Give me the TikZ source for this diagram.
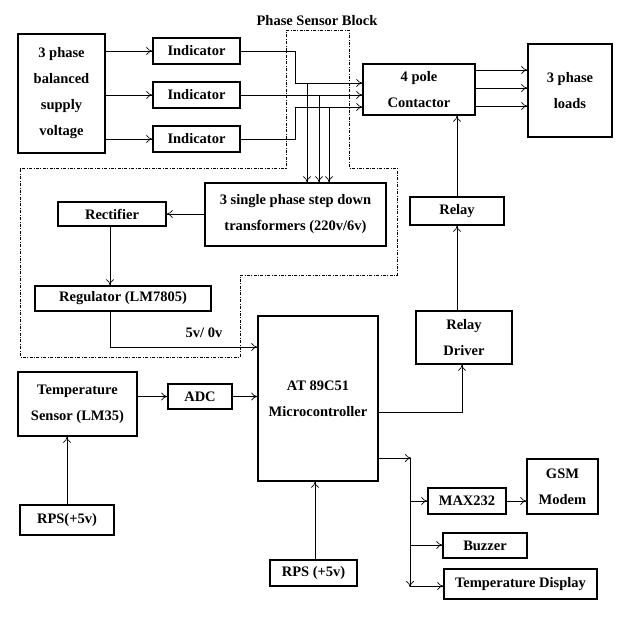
\documentclass[tikz,border=0pt]{standalone}
\usepackage{fontspec}
\setmainfont{Liberation Serif}
\usetikzlibrary{arrows.meta}
\begin{document}
\begin{tikzpicture}[x=1pt,y=-1pt,
  box/.style={draw,line width=1.5pt,align=center,font=\bfseries\fontsize{14.5}{26}\selectfont,inner sep=0pt},
  arr/.style={-{To[length=6pt,width=8pt]},line width=0.7pt},
  dd/.style={line width=0.6pt,dash pattern=on 3pt off 1.5pt on 0.8pt off 1.5pt}]
\useasboundingbox (0,0) rectangle (625,624);
\node[box,minimum width=87,minimum height=119] (sup) at (61.5,93.5) {3 phase\\balanced\\supply\\voltage};
\node[box,minimum width=87,minimum height=26] (i1) at (196.5,51) {Indicator};
\node[box,minimum width=87,minimum height=26] (i2) at (196.5,95) {Indicator};
\node[box,minimum width=87,minimum height=26] (i3) at (196.5,139) {Indicator};
\node[box,minimum width=112,minimum height=51] (cont) at (419,89.5) {4 pole\\Contactor};
\node[box,minimum width=84,minimum height=93] (load) at (570,90.5) {3 phase\\loads};
\node[box,minimum width=181,minimum height=63] (tr) at (295.5,214.5) {3 single phase step down\\transformers (220v/6v)};
\node[box,minimum width=108,minimum height=24] (rect) at (112,214) {Rectifier};
\node[box,minimum width=176,minimum height=25] (reg) at (123,298.5) {Regulator (LM7805)};
\node[box,minimum width=94,minimum height=28] (rel) at (457,211) {Relay};
\node[box,minimum width=96,minimum height=53] (drv) at (464,337.5) {Relay\\Driver};
\node[box,minimum width=120,minimum height=165] (mc) at (318,398.5) {AT 89C51\\Microcontroller};
\node[box,minimum width=119,minimum height=64] (ts) at (77.5,404) {Temperature\\Sensor (LM35)};
\node[box,minimum width=64,minimum height=25] (adc) at (200,396.5) {ADC};
\node[box,minimum width=94,minimum height=30] (rps1) at (67,520) {RPS(+5v)};
\node[box,minimum width=87,minimum height=26] (rps2) at (313.5,573) {RPS (+5v)};
\node[box,minimum width=78,minimum height=26] (max) at (467,501) {MAX232};
\node[box,minimum width=71,minimum height=55] (gsm) at (562.5,486.5) {GSM\\Modem};
\node[box,minimum width=84,minimum height=25] (buz) at (485,545.5) {Buzzer};
\node[box,minimum width=153,minimum height=30] (disp) at (520.5,584) {Temperature Display};
\node[font=\bfseries\fontsize{14.5}{16}\selectfont] (psb) at (317,21) {Phase Sensor Block};
\node[font=\bfseries\fontsize{14.5}{16}\selectfont] (v5) at (204,333) {5v/ 0v};
% phase sensor block outline
\draw[dd] (286,30) -- (349,30) -- (349,168) -- (397,168) -- (397,275) -- (240,275) -- (240,357) -- (20,357) -- (20,168) -- (286,168) -- cycle;
% supply to indicators
\draw[arr] (sup.east|-i1) -- (i1.west);
\draw[arr] (sup.east|-i2) -- (i2.west);
\draw[arr] (sup.east|-i3) -- (i3.west);
% indicators to contactor
\coordinate (c1) at (295,83);
\coordinate (c2) at (307,95);
\coordinate (c3) at (295,107);
\draw[arr] (i1.east) -| (c1) -- (cont.west|-c1);
\draw[arr] (i2.east) -- (cont.west|-c2);
\draw[arr] (i3.east) -| (c3) -- (cont.west|-c3);
\draw[arr] (307,83) -- (tr.north-|307,0);
\draw[arr] (319,95) -- (tr.north-|319,0);
\draw[arr] (329,107) -- (tr.north-|329,0);
% contactor to loads
\foreach \yy in {70,88,106}{\draw[arr] (cont.east|-0,\yy) -- (load.west|-0,\yy);}
\draw[arr] (rel.north) -- (cont.south-|rel.north);
\draw[arr] (drv.north-|rel.south) -- (rel.south);
\draw[arr] (mc.east|-0,412) -| (drv.south-|462,0);
\draw[arr] (tr.west|-rect) -- (rect.east);
\draw[arr] (rect.south-|110,0) -- (reg.north-|110,0);
\draw[arr] (reg.south-|110,0) |- (mc.west|-0,347);
\draw[arr] (ts.east|-adc) -- (adc.west);
\draw[arr] (adc.east) -- (mc.west|-adc);
\draw[arr] (rps1.north) -- (ts.south-|rps1.north);
\draw[arr] (rps2.north-|315,0) -- (mc.south-|315,0);
% bus
\draw[arr] (mc.east|-0,458) -- (411,458);
\draw[arr] (410,458) -- (410,587);
\draw[arr] (410,501) -- (max.west);
\draw[arr] (410,545) -- (buz.west|-0,545);
\draw[arr] (410,586) -- (disp.west|-0,586);
\draw[arr] (max.east) -- (gsm.west|-max.east);
\end{tikzpicture}
\end{document}
